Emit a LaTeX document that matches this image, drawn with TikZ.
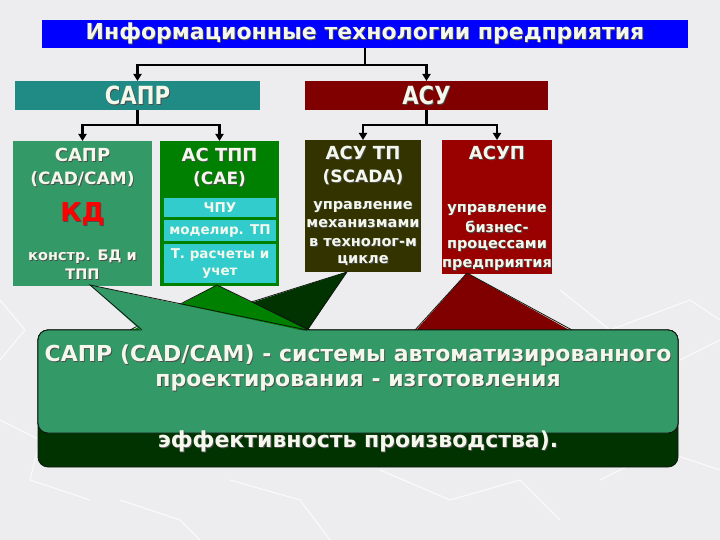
\documentclass[tikz,border=0pt]{standalone}
\usepackage{fontspec}
\setmainfont{DejaVu Sans}
\newfontfamily\vbfont{DejaVu Sans}
\newfontfamily\narfont[FakeStretch=0.85]{DejaVu Sans}
\usetikzlibrary{arrows.meta}
\definecolor{bg}{HTML}{EDEDF0}
\definecolor{titleblue}{HTML}{0000FF}
\definecolor{saprH}{HTML}{1F8B84}
\definecolor{asuH}{HTML}{800000}
\definecolor{cBone}{HTML}{339966}
\definecolor{cBtwo}{HTML}{008000}
\definecolor{cyanbox}{HTML}{33CCCC}
\definecolor{cBthree}{HTML}{333300}
\definecolor{cBfour}{HTML}{990000}
\definecolor{coRed}{HTML}{800000}
\definecolor{coDark}{HTML}{003300}
\definecolor{coGreen}{HTML}{008000}
\definecolor{coTeal}{HTML}{339966}
\definecolor{txtw}{HTML}{F4F8EC}
\definecolor{outl}{HTML}{101810}
\newcommand\shd[1]{\leavevmode\rlap{\kern0.9pt\raisebox{-0.9pt}{\textcolor{black!70}{#1}}}#1}
\newcommand\mycallout[6]{%
  \filldraw[fill=#1, draw=outl, line width=0.8pt, rounded corners=10pt] (38,330) rectangle (678,#6);
  \fill[#1] (#2,331.5) -- (#3,#4) -- (#5,331.5) -- cycle;
  \draw[outl, line width=0.8pt, line join=miter] (#2,330) -- (#3,#4) -- (#5,330);
}
\tikzset{
  conn/.style={line width=2.5pt, black},
  arr/.style={conn, -{Triangle[length=7pt,width=8pt]}},
  box/.style={inner sep=0pt, outer sep=0pt, draw=none},
  txt/.style={text=txtw, inner sep=0pt, font=\vbfont\bfseries},
  cotxt/.style={text=txtw, inner sep=0pt, font=\vbfont\bfseries\fontsize{22}{25}\selectfont},
  body/.style={txt, font=\vbfont\bfseries\fontsize{14.5}{17}\selectfont},
  cbody/.style={txt, font=\vbfont\bfseries\fontsize{13.5}{16}\selectfont},
  head/.style={txt, font=\vbfont\bfseries\fontsize{18}{20}\selectfont},
  sub/.style={txt, font=\vbfont\bfseries\fontsize{17}{19}\selectfont},
  bgline/.style={white, line width=1.2pt, opacity=0.7, line join=round},
}
\begin{document}
\begin{tikzpicture}[x=1pt, y=-1pt]
\fill[bg] (0,0) rectangle (720,540);
\useasboundingbox (0,0) rectangle (720,540);
% background texture
\draw[bgline] (560,290) -- (610,330) -- (690,300) -- (720,320);
\draw[bgline] (600,480) -- (660,450) -- (720,470);
\draw[bgline] (0,420) -- (40,440) -- (30,480) -- (90,500);
\draw[bgline] (230,480) -- (300,500) -- (330,540);
\draw[bgline] (380,470) -- (450,500) -- (520,480) -- (560,520);
\draw[bgline] (680,360) -- (720,340);
\draw[bgline] (0,300) -- (25,330) -- (0,360);
\draw[bgline] (120,500) -- (180,520) -- (200,540);
% title
\node[box, fill=titleblue, minimum width=646pt, minimum height=28pt] (title) at (365,34) {};
\node[txt, font=\vbfont\bfseries\fontsize{22}{25}\selectfont] (titletxt) at (365,34) {\shd{Информационные технологии предприятия}};
% header boxes
\node[box, fill=saprH, minimum width=245pt, minimum height=29pt] (sapr) at (137.5,95.5) {};
\node[txt, font=\narfont\bfseries\fontsize{25}{28}\selectfont] (saprtxt) at (137.5,95.5) {\shd{САПР}};
\node[box, fill=asuH, minimum width=243pt, minimum height=29pt] (asu) at (426.5,95.5) {};
\node[txt, font=\narfont\bfseries\fontsize{25}{28}\selectfont] (asutxt) at (426.5,95.5) {\shd{АСУ}};
% level 2 boxes
\node[box, fill=cBone, minimum width=139pt, minimum height=145pt] (b1) at (82.5,213.5) {};
\node[box, fill=cBtwo, minimum width=119pt, minimum height=145pt] (b2) at (219.5,213.5) {};
\node[box, fill=cBthree, minimum width=116pt, minimum height=132pt] (b3) at (363,206) {};
\node[box, fill=cBfour, minimum width=110pt, minimum height=134pt] (b4) at (497,207) {};
% connectors
\coordinate (j1) at (365,65);
\draw[conn] (title.south) -- (j1);
\draw[arr] (j1) -| (sapr);
\draw[arr] (j1) -| (asu);
\coordinate (j2) at (137.5,125);
\draw[conn] (sapr.south) -- (j2);
\draw[arr] (j2) -| (b1);
\draw[arr] (j2) -| (b2);
\coordinate (j3) at (426.5,125);
\draw[conn] (asu.south) -- (j3);
\draw[arr] (j3) -| (b3);
\draw[arr] (j3) -| (b4);
% box 1 texts
\node[head] (b1a) at (82.5,155) {\shd{САПР}};
\node[sub] (b1b) at (82.5,180) {\shd{(CAD/CAM)}};
\node[txt, text=red, font=\vbfont\bfseries\fontsize{26}{28}\selectfont] (b1c) at (82.5,215) {\shd{КД}};
\node[body] (b1d) at (82.5,257) {\shd{констр. БД и}};
\node[body] (b1e) at (82.5,275) {\shd{ТПП}};
% box 2 texts
\node[head] (b2a) at (219.5,155) {\shd{АС ТПП}};
\node[sub] (b2b) at (219.5,180) {\shd{(CAE)}};
\node[box, fill=cyanbox, minimum width=112pt, minimum height=19pt] (c1) at (220,207.5) {};
\node[box, fill=cyanbox, minimum width=112pt, minimum height=21pt] (c2) at (220,230.5) {};
\node[box, fill=cyanbox, minimum width=112pt, minimum height=39pt] (c3) at (220,263.5) {};
\node[cbody] (c1t) at (220,207.5) {ЧПУ};
\node[cbody] (c2t) at (220,230.5) {моделир. ТП};
\node[cbody] (c3a) at (220,255) {Т. расчеты и};
\node[cbody] (c3b) at (220,273) {учет};
% box 3 texts
\node[head] (b3a) at (363,153) {\shd{АСУ ТП}};
\node[sub] (b3b) at (363,178) {\shd{(SCADA)}};
\node[body] (b3c) at (363,207) {\shd{управление}};
\node[body] (b3d) at (363,224) {\shd{механизмами}};
\node[body] (b3e) at (363,243) {\shd{в технолог-м}};
\node[body] (b3f) at (363,261) {\shd{цикле}};
% box 4 texts
\node[head] (b4a) at (497,153) {\shd{АСУП}};
\node[body] (b4b) at (497,210) {\shd{управление}};
\node[body] (b4c) at (497,227) {\shd{бизнес-}};
\node[body] (b4d) at (497,246) {\shd{процессами}};
\node[body] (b4e) at (497,265) {\shd{предприятия}};
% callouts (back to front)
\mycallout{coRed}{415}{467}{273}{572}{433}
\mycallout{coDark}{162}{347}{272}{307}{467}
\mycallout{coGreen}{130}{217}{285}{310}{433}
\mycallout{coTeal}{142}{90}{285}{307}{433}
\node[cotxt] (co1) at (358,356) {\shd{САПР (CAD/CAM) - системы автоматизированного}};
\node[cotxt] (co2) at (358,383) {\shd{проектирования - изготовления}};
\node[cotxt] (co3) at (358,442) {\shd{эффективность производства).}};
\end{tikzpicture}
\end{document}
